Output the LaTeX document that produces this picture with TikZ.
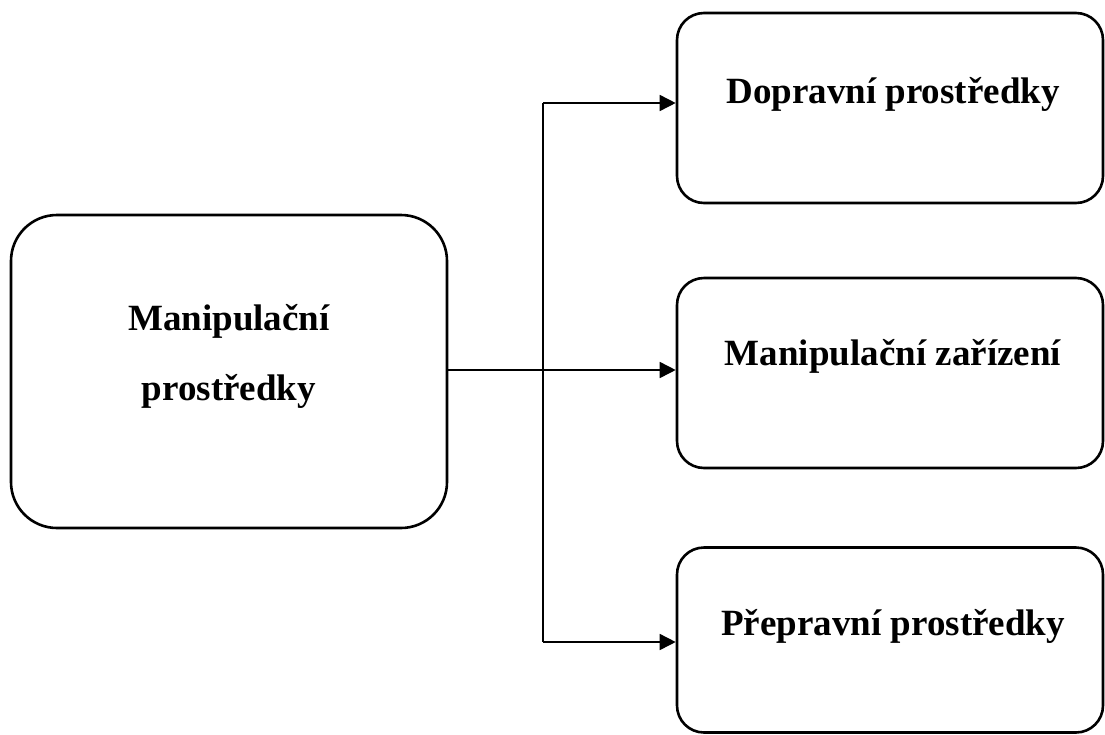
\documentclass[tikz,border=0pt]{standalone}
\usepackage{fontspec}
\setmainfont{Liberation Serif}
\usetikzlibrary{arrows.meta}
\begin{document}
\begin{tikzpicture}[x=1pt,y=-1pt,
  bigbox/.style={draw=black, line width=2.6pt, rectangle, rounded corners=46pt,
    minimum width=436pt, minimum height=313pt, inner sep=0pt},
  smallbox/.style={draw=black, line width=2.6pt, rectangle, rounded corners=27pt,
    minimum width=426pt, minimum height=190pt, inner sep=0pt},
  lbl/.style={anchor=base, inner sep=0pt, font=\fontsize{37}{44}\selectfont\bfseries},
  conn/.style={line width=1.6pt, draw=black},
  arr/.style={conn, -{Triangle[length=16pt,width=16pt]}}
]
\useasboundingbox (0,0) rectangle (1105,734);
\fill[white] (0,0) rectangle (1105,734);

\node[bigbox] (L) at (229,371.5) {};
\node[smallbox] (A) at (890,108) {};
\node[smallbox] (B) at (890,373) {};
\node[smallbox, minimum height=185pt] (C) at (890,640) {};

\node[lbl] (lt1) at (229,330) {Manipulační};
\node[lbl] (lt2) at (229,400) {prostředky};
\node[lbl] (at) at (893,103) {Dopravní prostředky};
\node[lbl] (bt) at (893,365) {Manipulační zařízení};
\node[lbl] (ct) at (893,635) {Přepravní prostředky};

\coordinate (J) at (543,370);
\coordinate (T) at (543,103);
\coordinate (D) at (543,642);

\draw[conn] (L.east |- J) -- (J);
\draw[conn] (T) -- (D);
\draw[arr] (J) -- (J -| B.west);
\draw[arr] (T) -- (T -| A.west);
\draw[arr] (D) -- (D -| C.west);
\end{tikzpicture}
\end{document}
